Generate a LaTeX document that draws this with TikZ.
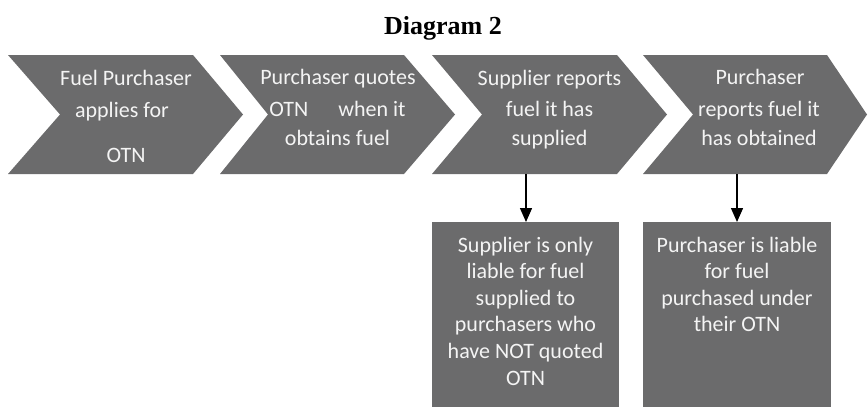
\documentclass[tikz,border=0pt]{standalone}
\usepackage{fontspec}
\setmainfont{Liberation Serif}
\newfontfamily\carlito{Carlito}
\usetikzlibrary{arrows.meta}
\definecolor{boxgray}{HTML}{6B6B6C}
\definecolor{txtcol}{HTML}{F4F4F4}
\begin{document}
\begin{tikzpicture}[x=1pt,y=-1pt,
  chev/.style={fill=boxgray},
  ln/.style={text=txtcol,font=\carlito\fontsize{22}{26}\selectfont,anchor=base,inner sep=0pt},
  res/.style={fill=boxgray,draw=none,inner sep=0pt,anchor=north west},
  conn/.style={line width=1.4pt,-{Triangle[length=14pt,width=12pt]}}]
\useasboundingbox (0,0) rectangle (868,407);
% title
\node[font=\bfseries\fontsize{26}{30}\selectfont,anchor=base,inner sep=0pt] (title) at (443,34) {Diagram 2};
% chevrons
\fill[chev] (8,55) -- (193,55) -- (243,114.5) -- (193,174) -- (8,174) -- (60,114.5) -- cycle;
\fill[chev] (220,55) -- (404,55) -- (455,114.5) -- (404,174) -- (220,174) -- (268,114.5) -- cycle;
\fill[chev] (432,55) -- (617,55) -- (667,114.5) -- (617,174) -- (432,174) -- (482,114.5) -- cycle;
\fill[chev] (643,55) -- (827,55) -- (867,114.5) -- (827,174) -- (643,174) -- (693,114.5) -- cycle;
\coordinate (c3b) at (526,174);
\coordinate (c4b) at (737,174);
% chevron texts
\node[ln] (c1a) at (126,85) {Fuel Purchaser};
\node[ln] (c1b) at (122,117) {applies for};
\node[ln] (c1c) at (126,162) {OTN};
\node[ln] (c2a) at (338,84) {Purchaser quotes};
\node[ln] (c2b) at (337.5,116) {OTN\hspace{30pt}when it};
\node[ln] (c2c) at (337.5,145) {obtains fuel};
\node[ln] (c3a) at (549.5,85) {Supplier reports};
\node[ln] (c3b2) at (549.5,116) {fuel it has};
\node[ln] (c3c) at (549.5,145) {supplied};
\node[ln] (c4a) at (760,84) {Purchaser};
\node[ln] (c4b2) at (759,116) {reports fuel it};
\node[ln] (c4c) at (759,145) {has obtained};
% result boxes
\node[res,minimum width=187pt,minimum height=186pt] (r1) at (432,222) {};
\node[res,minimum width=188pt,minimum height=186pt] (r2) at (643,222) {};
\node[ln] (r1a) at (525.5,252) {Supplier is only};
\node[ln] (r1b) at (525.5,278.5) {liable for fuel};
\node[ln] (r1c) at (525.5,305) {supplied to};
\node[ln] (r1d) at (525.5,331.5) {purchasers who};
\node[ln] (r1e) at (525.5,358) {have NOT quoted};
\node[ln] (r1f) at (525.5,385) {OTN};
\node[ln] (r2a) at (737,252) {Purchaser is liable};
\node[ln] (r2b) at (737,278.5) {for fuel};
\node[ln] (r2c) at (737,305) {purchased under};
\node[ln] (r2d) at (737,331.5) {their OTN};
% connectors
\draw[conn] (c3b) -- (r1.north -| c3b);
\draw[conn] (c4b) -- (r2.north -| c4b);
\end{tikzpicture}
\end{document}
